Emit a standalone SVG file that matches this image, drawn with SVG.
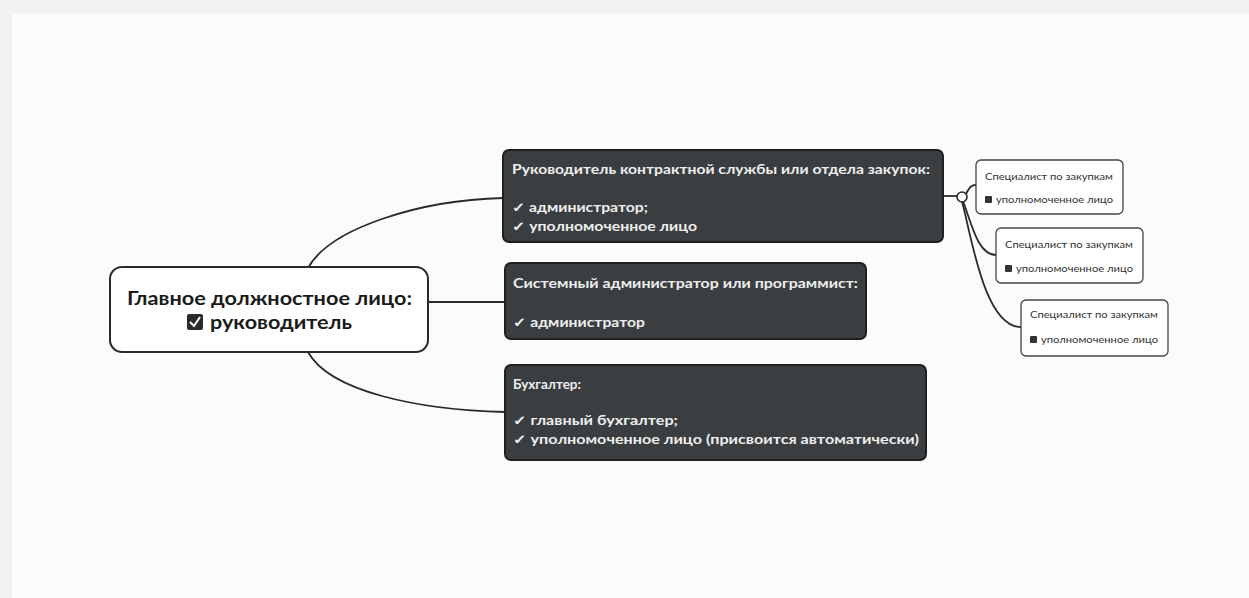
<svg xmlns="http://www.w3.org/2000/svg" width="1249" height="598" viewBox="0 0 1249 598">
<style>
.dark rect.box{fill:#3b3e41;stroke:#1e1f21;stroke-width:2}
.dark text{fill:#eeeeee;font-family:"Lato","Open Sans",sans-serif;font-weight:bold;font-size:13px}
.small rect.frame{fill:#ffffff;stroke:#444;stroke-width:1.3}
.small rect.cb{fill:#333;stroke:none}
.small text{fill:#333;font-family:"Lato",sans-serif;font-size:8.5px}
.conn path{fill:none;stroke:#2a2a2a;stroke-width:1.8}
.ctext{font-family:"Lato","Open Sans",sans-serif;font-weight:bold;font-size:19px;fill:#1a1a1a}
</style>
<rect width="1249" height="598" fill="#f2f2f2"/>
<rect x="12" y="14" width="1237" height="584" fill="#fbfbfb"/>
<g class="conn">
<path d="M308,268 C330,228 420,200 503,198"/>
<path d="M428,302 L505,302"/>
<path d="M308,352 C330,392 420,410 505,412"/>
<path d="M943,196 L957,196"/>
<path d="M966,194 C970,186 972,185 976,185"/>
<path d="M963,201 C972,225 978,255 996,255"/>
<path d="M962,201 C972,240 985,327 1021,327"/>
</g>
<circle cx="962" cy="197" r="5" fill="#fff" stroke="#2a2a2a" stroke-width="1.6"/>
<g id="central">
<rect x="110" y="267" width="318" height="85" rx="12" fill="#fff" stroke="#2a2a2a" stroke-width="2"/>
<text class="ctext" x="127" y="305" textLength="285" lengthAdjust="spacingAndGlyphs">Главное должностное лицо:</text>
<rect x="187" y="314" width="16" height="16" rx="2" fill="#2a2a2a"/>
<path d="M190,322 L194,326 L200,317" fill="none" stroke="#fff" stroke-width="2"/>
<text class="ctext" x="210" y="329" textLength="142" lengthAdjust="spacingAndGlyphs">руководитель</text>
</g>
<g id="node1" class="dark">
<rect class="box" x="503" y="150" width="440" height="92" rx="6"/>
<text x="512" y="174" textLength="418" lengthAdjust="spacingAndGlyphs">Руководитель контрактной службы или отдела закупок:</text>
<text x="512" y="212" textLength="136" lengthAdjust="spacingAndGlyphs">✓ администратор;</text>
<text x="512" y="231" textLength="185" lengthAdjust="spacingAndGlyphs">✓ уполномоченное лицо</text>
</g>
<g id="node2" class="dark">
<rect class="box" x="505" y="263" width="361" height="76" rx="6"/>
<text x="513" y="288" textLength="345" lengthAdjust="spacingAndGlyphs">Системный администратор или программист:</text>
<text x="513" y="327" textLength="132" lengthAdjust="spacingAndGlyphs">✓ администратор</text>
</g>
<g id="node3" class="dark">
<rect class="box" x="505" y="365" width="421" height="95" rx="6"/>
<text x="513" y="389" textLength="68" lengthAdjust="spacingAndGlyphs">Бухгалтер:</text>
<text x="513" y="425" textLength="165" lengthAdjust="spacingAndGlyphs">✓ главный бухгалтер;</text>
<text x="513" y="444" textLength="406" lengthAdjust="spacingAndGlyphs">✓ уполномоченное лицо (присвоится автоматически)</text>
</g>
<g id="spec1" class="small">
<rect class="frame" x="976" y="160" width="147" height="54" rx="5"/>
<text x="985" y="180" textLength="128" lengthAdjust="spacingAndGlyphs">Специалист по закупкам</text>
<rect class="cb" x="985" y="196" width="7" height="7" rx="1"/>
<text x="996" y="203" textLength="117" lengthAdjust="spacingAndGlyphs">уполномоченное лицо</text>
</g>
<g id="spec2" class="small">
<rect class="frame" x="996" y="228" width="147" height="55" rx="5"/>
<text x="1005" y="248" textLength="128" lengthAdjust="spacingAndGlyphs">Специалист по закупкам</text>
<rect class="cb" x="1005" y="265" width="7" height="7" rx="1"/>
<text x="1016" y="272" textLength="117" lengthAdjust="spacingAndGlyphs">уполномоченное лицо</text>
</g>
<g id="spec3" class="small">
<rect class="frame" x="1021" y="300" width="147" height="56" rx="5"/>
<text x="1030" y="318" textLength="128" lengthAdjust="spacingAndGlyphs">Специалист по закупкам</text>
<rect class="cb" x="1030" y="336" width="7" height="7" rx="1"/>
<text x="1041" y="343" textLength="117" lengthAdjust="spacingAndGlyphs">уполномоченное лицо</text>
</g>
</svg>
